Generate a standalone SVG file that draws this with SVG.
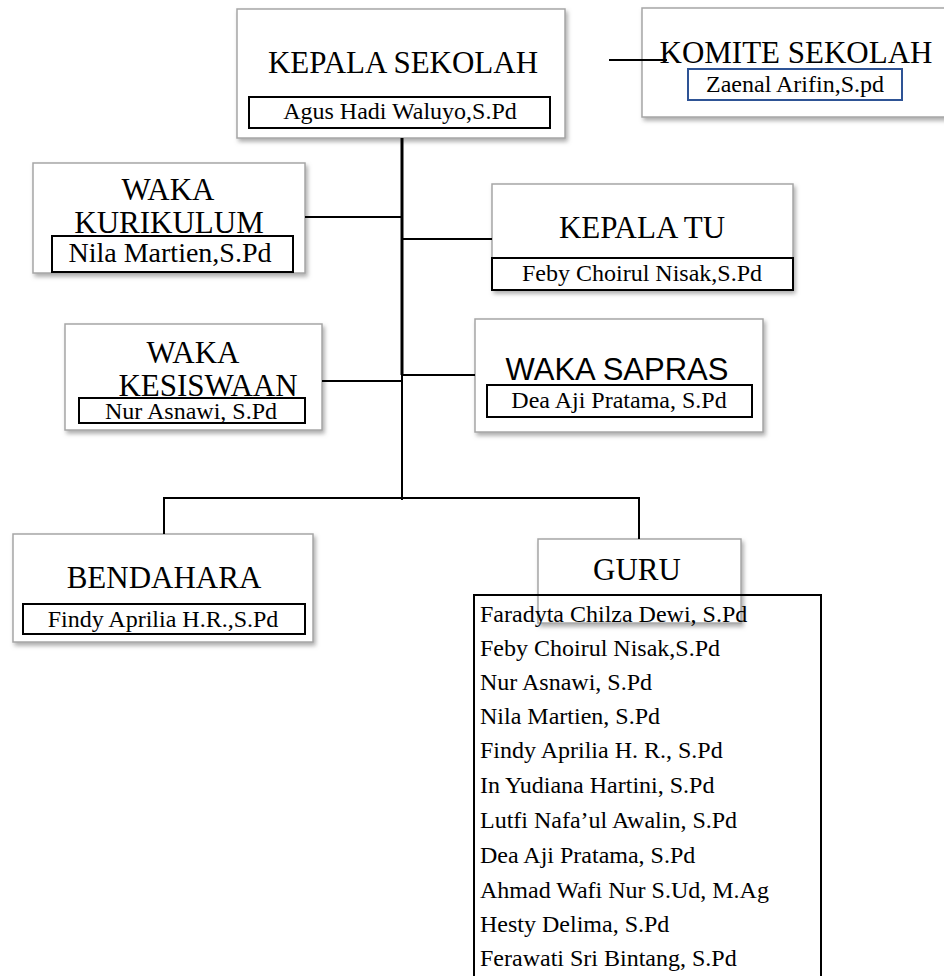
<svg xmlns="http://www.w3.org/2000/svg" width="944" height="976" viewBox="0 0 944 976">
<defs>
<filter id="sh" x="-10%" y="-10%" width="125%" height="130%">
<feDropShadow dx="2" dy="3" stdDeviation="2" flood-color="#777" flood-opacity="0.6"/>
</filter>
<style>
.box{fill:#fff;stroke:#a6a6a6;stroke-width:1.5;filter:url(#sh)}
.nm{fill:#fff;stroke:#000;stroke-width:2}
.t{font-family:"Liberation Serif","Times New Roman",serif;font-size:31px;fill:#000;text-anchor:middle}
.ts{font-family:"Liberation Sans",Arial,sans-serif;font-size:31px;fill:#000;text-anchor:middle}
.n{font-family:"Liberation Serif","Times New Roman",serif;font-size:24px;fill:#000;text-anchor:middle}
.l{font-family:"Liberation Serif","Times New Roman",serif;font-size:24px;fill:#000}
.c{fill:none;stroke:#000;stroke-width:2}
</style>
</defs>
<rect width="944" height="976" fill="#fff"/>
<g id="kepala-sekolah">
<rect class="box" x="237" y="9" width="328" height="129"/>
<text class="t" x="403" y="73">KEPALA SEKOLAH</text>
<rect class="nm" x="249" y="97" width="301" height="31"/>
<text class="n" x="400" y="119">Agus Hadi Waluyo,S.Pd</text>
</g>
<g id="komite-sekolah">
<rect class="box" x="642" y="8" width="310" height="109"/>
<text class="t" x="796" y="63">KOMITE SEKOLAH</text>
<rect x="688" y="69" width="214" height="31" fill="#fff" stroke="#2e5395" stroke-width="2"/>
<text class="n" x="795" y="92">Zaenal Arifin,S.pd</text>
</g>
<g id="waka-kurikulum">
<rect class="box" x="33" y="163" width="272" height="110"/>
<text class="t" x="168" y="200">WAKA</text>
<text class="t" x="169" y="233">KURIKULUM</text>
<rect class="nm" x="52" y="236" width="241" height="36"/>
<text class="n" x="170" y="262" style="font-size:28px">Nila Martien,S.Pd</text>
</g>
<g id="kepala-tu">
<rect class="box" x="492" y="184" width="301" height="106"/>
<text class="t" x="642" y="238">KEPALA TU</text>
<rect class="nm" x="492" y="258" width="301" height="32"/>
<text class="n" x="642" y="281">Feby Choirul Nisak,S.Pd</text>
</g>
<g id="waka-kesiswaan">
<rect class="box" x="65" y="324" width="257" height="106"/>
<text class="t" x="193" y="363">WAKA</text>
<text class="t" x="208" y="396">KESISWAAN</text>
<rect class="nm" x="79" y="398" width="226" height="25"/>
<text class="n" x="191" y="419">Nur Asnawi, S.Pd</text>
</g>
<g id="waka-sapras">
<rect class="box" x="475" y="319" width="288" height="113"/>
<text class="ts" x="617" y="380">WAKA SAPRAS</text>
<rect class="nm" x="487" y="385" width="265" height="32"/>
<text class="n" x="619" y="408">Dea Aji Pratama, S.Pd</text>
</g>
<g id="bendahara">
<rect class="box" x="13" y="534" width="300" height="108"/>
<text class="t" x="164" y="588">BENDAHARA</text>
<rect class="nm" x="23" y="604" width="282" height="30"/>
<text class="n" x="163" y="627">Findy Aprilia H.R.,S.Pd</text>
</g>
<g id="guru">
<rect class="box" x="538" y="539" width="203" height="84"/>
<text class="t" x="637" y="580">GURU</text>
<rect x="474" y="595" width="347" height="395" fill="none" stroke="#000" stroke-width="2"/>
<text class="l" x="480" y="622">Faradyta Chilza Dewi, S.Pd</text>
<text class="l" x="480" y="656">Feby Choirul Nisak,S.Pd</text>
<text class="l" x="480" y="690">Nur Asnawi, S.Pd</text>
<text class="l" x="480" y="724">Nila Martien, S.Pd</text>
<text class="l" x="480" y="758">Findy Aprilia H. R., S.Pd</text>
<text class="l" x="480" y="793">In Yudiana Hartini, S.Pd</text>
<text class="l" x="480" y="828">Lutfi Nafa’ul Awalin, S.Pd</text>
<text class="l" x="480" y="863">Dea Aji Pratama, S.Pd</text>
<text class="l" x="480" y="898">Ahmad Wafi Nur S.Ud, M.Ag</text>
<text class="l" x="480" y="932">Hesty Delima, S.Pd</text>
<text class="l" x="480" y="966">Ferawati Sri Bintang, S.Pd</text>
</g>
<g id="connectors">
<line class="c" x1="402" y1="138" x2="402" y2="375" style="stroke-width:3"/>
<line class="c" x1="402" y1="374" x2="402" y2="500"/>
<line class="c" x1="609" y1="60" x2="667" y2="60"/>
<line class="c" x1="305" y1="217" x2="402" y2="217"/>
<line class="c" x1="402" y1="239" x2="492" y2="239"/>
<line class="c" x1="322" y1="381" x2="402" y2="381"/>
<line class="c" x1="402" y1="375" x2="475" y2="375"/>
<polyline class="c" points="164,534 164,498 639,498 639,539"/>
</g>
</svg>
